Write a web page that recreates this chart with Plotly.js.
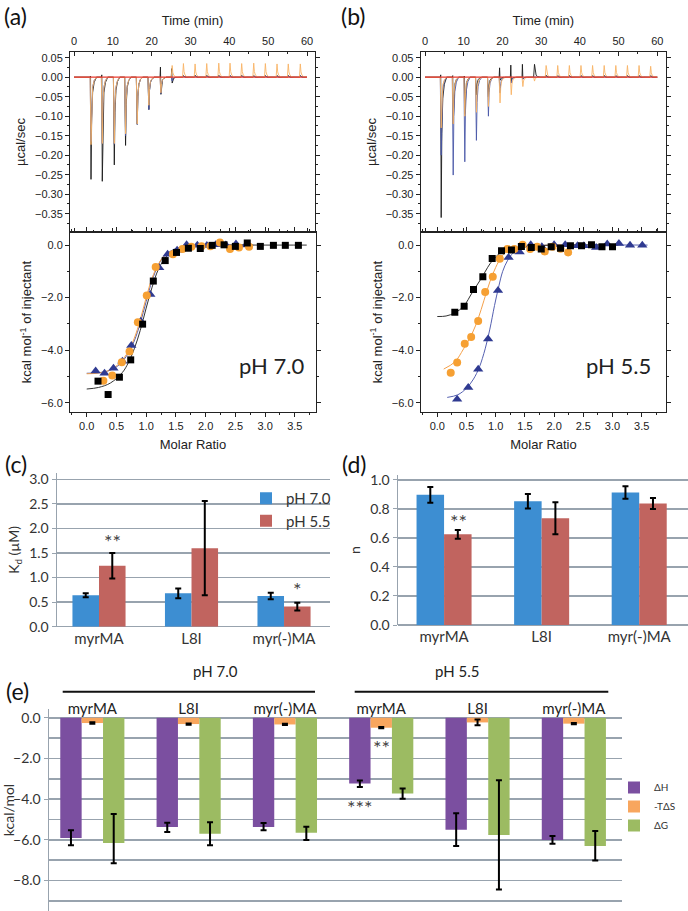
<!DOCTYPE html>
<html><head><meta charset="utf-8">
<script src="https://cdn.plot.ly/plotly-3.0.1.min.js"></script>
<style>html,body{margin:0;padding:0;background:#fff}</style>
</head><body><div id="chart" style="width:688px;height:911px"></div>
<script>
// ================= DATA =================
// (a) thermogram, pH 7.0 : injection times (min) and peak heights (µcal/sec)
const injTimeA    = [4.3,7.2,10.3,13.2,16.2,19.2,22.3,25.2,28.1,31.1,34.1,37.2,40.1,43.1,46.2,49.2,52.2,55.1,58.2];
const peakA_black = [-0.262,-0.267,-0.225,-0.175,-0.121,-0.083,-0.044,-0.015,0.004,0.005,0.005,0.005,0.004,0.005,0.004,0.004,0.004,0.004,0.004];
const kickA_black = [0.003,0.006,0,0,0,0,0.026,0.022,0,0,0,0,0,0,0,0,0,0,0];
const peakA_orange= [-0.173,-0.170,-0.170,-0.145,-0.120,-0.072,-0.040,0.030,0.035,0.034,0.035,0.036,0.036,0.035,0.036,0.035,0.034,0.034,0.034];
const peakA_blue  = [-0.165,-0.170,-0.172,-0.150,-0.121,-0.083,-0.042,-0.010,0.003,0.003,0.003,0.003,0.003,0.003,0.003,0.003,0.003,0.003,0.003];
// (b) thermogram, pH 5.5
const injTimeB    = [4.1,7.2,10.2,13.2,16.3,19.3,22.2,25.2,28.2,31.2,34.2,37.2,40.2,43.2,46.2,49.2,52.2,55.2,58.2];
const peakB_black = [-0.360,-0.120,-0.095,-0.045,-0.050,-0.008,-0.010,-0.005,0.033,0.005,0.004,0.004,0.004,0.004,0.004,0.004,0.004,0.004,0.004];
const kickB_black = [0.006,0.004,0.003,0,0,0.024,0.031,0.033,0,0,0,0,0,0,0,0,0,0,0];
const peakB_orange= [-0.130,-0.120,-0.100,-0.090,-0.075,-0.066,-0.045,-0.024,-0.010,0.030,0.030,0.030,0.030,0.030,0.030,0.030,0.030,0.030,0.028];
const peakB_blue  = [-0.200,-0.251,-0.217,-0.162,-0.100,-0.040,-0.015,-0.005,0.002,0.002,0.002,0.002,0.002,0.002,0.002,0.002,0.002,0.002,0.002];
const baselineT = [0, 60];
const baselineV = [0, 0];

// (a) integrated heats, pH 7.0 (kcal/mol of injectant vs molar ratio)
const sqA_x  = [0.19,0.36,0.55,0.74,0.94,1.12,1.32,1.51,1.71,1.91,2.11,2.31,2.50,2.70,2.92,3.14,3.34,3.56];
const sqA_y  = [-5.18,-5.69,-5.03,-4.37,-3.01,-1.37,-0.59,-0.28,-0.12,-0.13,-0.01,0.01,-0.05,0.08,-0.05,-0.01,-0.01,-0.01];
const ciA_x  = [0.28,0.43,0.59,0.72,0.86,1.01,1.16,1.45,1.61,1.76,1.93,2.08,2.24,2.41,2.56,2.73];
const ciA_y  = [-5.17,-4.97,-4.46,-4.05,-2.94,-1.92,-0.83,-0.35,-0.15,-0.06,-0.04,-0.04,0.10,-0.15,-0.09,-0.06];
const triA_x = [0.15,0.30,0.45,0.60,0.75,0.91,1.07,1.22,1.36,1.52,1.68,1.86,2.02,2.17,2.34,2.51,2.68];
const triA_y = [-4.79,-4.88,-4.69,-4.42,-3.82,-2.90,-1.88,-0.86,-0.35,-0.20,0.01,-0.01,-0.02,0.01,0.00,0.04,0.00];
const fitA_black_x  = [0,0.2,0.4,0.6,0.7,0.8,0.9,1.0,1.1,1.2,1.3,1.4,1.5,1.7,2.0,2.5,3.0,3.7];
const fitA_black_y  = [-5.48,-5.42,-5.25,-4.85,-4.48,-3.95,-3.25,-2.40,-1.60,-0.95,-0.55,-0.30,-0.17,-0.06,-0.02,0,0,0];
const fitA_orange_x = [0,0.2,0.4,0.55,0.7,0.8,0.9,1.0,1.1,1.2,1.3,1.45,1.6,1.8,2.2,2.8];
const fitA_orange_y = [-4.90,-4.87,-4.75,-4.50,-4.05,-3.55,-2.85,-2.00,-1.25,-0.75,-0.42,-0.20,-0.09,-0.03,0,0];
const fitA_blue_x   = [0,0.2,0.4,0.55,0.7,0.8,0.9,1.0,1.1,1.2,1.3,1.45,1.6,1.8,2.2,2.8];
const fitA_blue_y   = [-4.88,-4.86,-4.76,-4.55,-4.12,-3.65,-2.98,-2.15,-1.35,-0.78,-0.42,-0.18,-0.07,-0.02,0,0];

// (b) integrated heats, pH 5.5
const sqB_x  = [0.30,0.46,0.62,0.78,0.94,1.10,1.27,1.44,1.61,1.78,1.95,2.11,2.28,2.47,2.64,2.82,3.00];
const sqB_y  = [-2.56,-2.33,-1.69,-1.21,-0.51,-0.22,-0.19,-0.05,-0.09,-0.15,-0.06,-0.12,-0.03,-0.03,0.01,-0.06,-0.06];
const ciB_x  = [0.23,0.34,0.47,0.58,0.70,0.82,0.95,1.07,1.20,1.32,1.46,1.59,1.71,1.84,1.97,2.11,2.24];
const ciB_y  = [-4.86,-4.47,-3.76,-3.50,-2.89,-1.79,-1.21,-0.52,-0.15,-0.15,0.01,-0.15,-0.06,-0.24,-0.06,-0.14,-0.28];
const triB_x = [0.34,0.53,0.70,0.87,1.04,1.22,1.41,1.60,1.79,2.00,2.19,2.40,2.51,2.72,2.91,3.11,3.30,3.51];
const triB_y = [-5.87,-5.42,-4.73,-3.58,-1.73,-0.47,-0.26,0.01,-0.06,0.01,0.01,-0.03,-0.03,-0.09,0.04,0.06,-0.01,-0.01];
const fitB_black_x  = [0,0.15,0.3,0.45,0.6,0.75,0.9,1.0,1.1,1.3,1.6,2.0,3.1];
const fitB_black_y  = [-2.72,-2.70,-2.58,-2.33,-1.80,-1.28,-0.72,-0.45,-0.27,-0.12,-0.04,0,0];
const fitB_orange_x = [0.11,0.3,0.45,0.6,0.7,0.8,0.9,1.0,1.1,1.2,1.4,1.7,2.2,2.4];
const fitB_orange_y = [-4.72,-4.45,-3.95,-3.35,-2.80,-2.10,-1.40,-0.85,-0.45,-0.22,-0.07,-0.02,0,0];
const fitB_blue_x   = [0.17,0.35,0.5,0.62,0.72,0.82,0.9,0.98,1.05,1.12,1.2,1.3,1.45,1.7,2.2,3.6];
const fitB_blue_y   = [-5.80,-5.70,-5.45,-5.10,-4.65,-3.95,-3.20,-2.30,-1.60,-1.00,-0.60,-0.30,-0.12,-0.03,0,0];

// (c) Kd (µM) and (d) n
const constructs = ['myrMA','L8I','myr(-)MA'];
const kd_pH70 = [0.64,0.68,0.625];
const kd_pH70_err = [0.04,0.10,0.065];
const kd_pH55 = [1.24,1.60,0.41];
const kd_pH55_err = [0.26,0.96,0.08];
const n_pH70 = [0.897,0.853,0.913];
const n_pH70_err = [0.055,0.05,0.043];
const n_pH55 = [0.625,0.736,0.837];
const n_pH55_err = [0.03,0.11,0.038];

// (e) thermodynamic parameters (kcal/mol)
const groupPH    = ['pH 7.0','pH 7.0','pH 7.0','pH 5.5','pH 5.5','pH 5.5'];
const groupNames = ['myrMA','L8I','myr(-)MA','myrMA','L8I','myr(-)MA'];
const dH       = [-5.91,-5.37,-5.37,-3.23,-5.50,-6.01];
const dH_errUp = [0.38,0.21,0.19,0.14,0.80,0.20];
const dH_errDn = [0.36,0.25,0.16,0.17,0.80,0.19];
const mTdS       = [-0.26,-0.31,-0.33,-0.49,-0.23,-0.29];
const mTdS_err   = [0.04,0.03,0.03,0.03,0.14,0.03];
const dG       = [-6.16,-5.70,-5.65,-3.72,-5.76,-6.30];
const dG_errUp = [1.43,0.56,0.29,0.24,2.69,0.73];
const dG_errDn = [0.99,0.57,0.36,0.26,2.68,0.72];

// ================= STYLE / HELPERS =================
const FT = '"Liberation Sans", Arial, sans-serif';
const FX = 'Lato, "Open Sans", sans-serif';
const W = 688, H = 911;
const fx = p => p / W;
const fy = p => 1 - p / H;
const C_BLACK = '#1a1a1a', C_ORANGE = '#F8B365', C_BLUE = '#4A58A8', C_RED = '#E8382C';
const spikeOffsets = [0, 0.08, 0.25, 0.5, 0.9, 1.5];
const spikeFrac    = [0, 1, 0.4, 0.15, 0.05, 0];

function thermo(times, peaks, kicks) {
  const x = [0], y = [0];
  times.forEach((t, i) => {
    x.push(t - 0.15); y.push(0);
    if (kicks && kicks[i]) { x.push(t - 0.04); y.push(kicks[i]); }
    for (let j = 1; j < spikeOffsets.length; j++) { x.push(t + spikeOffsets[j]); y.push(peaks[i] * spikeFrac[j]); }
  });
  x.push(60); y.push(0);
  return { x, y };
}
function line(d, xa, ya, color, w) {
  return { type:'scatter', mode:'lines', x:d.x, y:d.y, xaxis:xa, yaxis:ya, showlegend:false,
           hoverinfo:'skip', line:{color, width:w||1} };
}
function fit(x, y, xa, ya, color) {
  return { type:'scatter', mode:'lines', x, y, xaxis:xa, yaxis:ya, showlegend:false,
           line:{color, width:1, shape:'spline', smoothing:1} };
}
function pts(x, y, xa, ya, color, sym, size) {
  return { type:'scatter', mode:'markers', x, y, xaxis:xa, yaxis:ya, showlegend:false,
           marker:{color, symbol:sym, size, line:{width:0}} };
}

const traces = [];
// ---- thermograms
[['x','y',injTimeA,peakA_black,kickA_black,peakA_blue,peakA_orange],
 ['x3','y3',injTimeB,peakB_black,kickB_black,peakB_blue,peakB_orange]].forEach(s => {
  traces.push(line(thermo(s[2], s[3], s[4]), s[0], s[1], C_BLACK, 0.9));
  traces.push(line(thermo(s[2], s[5]), s[0], s[1], C_BLUE, 0.9));
  traces.push(line(thermo(s[2], s[6]), s[0], s[1], C_ORANGE, 0.9));
  traces.push(line({x:baselineT, y:baselineV}, s[0], s[1], C_RED, 1.2));
});
// ---- isotherms
traces.push(fit(fitA_blue_x, fitA_blue_y, 'x2','y2', '#5560B0'));
traces.push(fit(fitA_orange_x, fitA_orange_y, 'x2','y2', '#F4A04A'));
traces.push(fit(fitA_black_x, fitA_black_y, 'x2','y2', '#333'));
traces.push(pts(triA_x, triA_y, 'x2','y2', '#2F3A91', 'triangle-up', 9));
traces.push(pts(ciA_x, ciA_y, 'x2','y2', '#F6A033', 'circle', 8));
traces.push(pts(sqA_x, sqA_y, 'x2','y2', '#000', 'square', 7));
traces.push(fit(fitB_blue_x, fitB_blue_y, 'x4','y4', '#5560B0'));
traces.push(fit(fitB_orange_x, fitB_orange_y, 'x4','y4', '#F4A04A'));
traces.push(fit(fitB_black_x, fitB_black_y, 'x4','y4', '#333'));
traces.push(pts(triB_x, triB_y, 'x4','y4', '#2F3A91', 'triangle-up', 9));
traces.push(pts(ciB_x, ciB_y, 'x4','y4', '#F6A033', 'circle', 8));
traces.push(pts(sqB_x, sqB_y, 'x4','y4', '#000', 'square', 7));

// ---- (c) and (d) bars
const BLUE = '#3D8ED2', RED = '#C1645F';
function errBar(arr, minus) {
  const e = { type:'data', array:arr, color:'#000', thickness:2, width:3, visible:true };
  if (minus) { e.symmetric = false; e.arrayminus = minus; }
  return e;
}
traces.push({type:'bar', name:'pH 7.0', x:constructs, y:kd_pH70, xaxis:'x5', yaxis:'y5',
  marker:{color:BLUE}, width:0.287, offset:-0.287, error_y:errBar(kd_pH70_err), legend:'legend'});
traces.push({type:'bar', name:'pH 5.5', x:constructs, y:kd_pH55, xaxis:'x5', yaxis:'y5',
  marker:{color:RED}, width:0.287, offset:0, error_y:errBar(kd_pH55_err), legend:'legend'});
traces.push({type:'bar', name:'pH 7.0', x:constructs, y:n_pH70, xaxis:'x6', yaxis:'y6', showlegend:false,
  marker:{color:BLUE}, width:0.282, offset:-0.282, error_y:errBar(n_pH70_err)});
traces.push({type:'bar', name:'pH 5.5', x:constructs, y:n_pH55, xaxis:'x6', yaxis:'y6', showlegend:false,
  marker:{color:RED}, width:0.282, offset:0, error_y:errBar(n_pH55_err)});

// ---- (e) bars
const eKeys = groupPH.map((p, i) => p + ' ' + groupNames[i]);
traces.push({type:'bar', name:'ΔH', x:eKeys, y:dH, xaxis:'x7', yaxis:'y7', legend:'legend2',
  marker:{color:'#7B4FA0'}, width:0.222, offset:-0.333, error_y:errBar(dH_errUp, dH_errDn)});
traces.push({type:'bar', name:'-TΔS', x:eKeys, y:mTdS, xaxis:'x7', yaxis:'y7', legend:'legend2',
  marker:{color:'#F8A65E'}, width:0.222, offset:-0.111, error_y:errBar(mTdS_err)});
traces.push({type:'bar', name:'ΔG', x:eKeys, y:dG, xaxis:'x7', yaxis:'y7', legend:'legend2',
  marker:{color:'#9CBB62'}, width:0.222, offset:0.111, error_y:errBar(dG_errUp, dG_errDn)});

// ================= LAYOUT =================
const tkT = {family:FT, size:11, color:'#222'};
const ttT = {family:FT, size:13, color:'#222'};
const GRID = '#98A3AE';
const tkX = {family:FX, size:14, color:'#333'};

function thermoX(dom, rng) {
  return {domain:dom, range:rng, side:'top', dtick:10, tick0:0, ticks:'inside', ticklen:4, tickcolor:'#222',
    minor:{dtick:5, ticks:'inside', ticklen:2, tickcolor:'#222'}, showline:true, mirror:'ticks', linecolor:'#222',
    linewidth:1, showgrid:false, zeroline:false, tickfont:tkT, ticklabelstandoff:2,
    title:{text:'Time (min)', font:ttT, standoff:6}};
}
function thermoY(anchor) {
  return {domain:[fy(232), fy(52)], range:[-0.397, 0.0646], anchor, dtick:0.05, tick0:0, tickformat:'.2f',
    ticks:'outside', ticklen:4, tickcolor:'#222', minor:{dtick:0.025, ticks:'outside', ticklen:2, tickcolor:'#222'},
    showline:true, mirror:'ticks', linecolor:'#222', linewidth:1, showgrid:false, zeroline:false, tickfont:tkT,
    title:{text:'µcal/sec', font:ttT, standoff:6}};
}
function isoX(dom, rng, anchor) {
  return {domain:dom, range:rng, anchor, dtick:0.5, tick0:0, tickformat:'.1f', ticks:'outside', ticklen:4,
    tickcolor:'#222', minor:{dtick:0.25, ticks:'outside', ticklen:2, tickcolor:'#222'}, showline:true, mirror:'ticks',
    linecolor:'#222', linewidth:1, showgrid:false, zeroline:false, tickfont:tkT,
    title:{text:'Molar Ratio', font:ttT, standoff:8}};
}
function isoY(anchor) {
  return {domain:[fy(412), fy(232)], range:[-6.355, 0.498], anchor, dtick:2, tick0:0, tickformat:'.1f',
    ticks:'outside', ticklen:4, tickcolor:'#222', minor:{dtick:1, ticks:'outside', ticklen:2, tickcolor:'#222'},
    showline:true, mirror:'ticks', linecolor:'#222', linewidth:1, showgrid:false, zeroline:false, tickfont:tkT,
    title:{text:'kcal mol<sup>-1</sup> of injectant', font:ttT, standoff:6}};
}
function barY(dom, rng, dtick, anchor, title) {
  return {domain:dom, range:rng, anchor, dtick, tick0:0, tickformat:'.1f', showgrid:true, gridcolor:GRID,
    gridwidth:1.5, zeroline:true, zerolinecolor:GRID, zerolinewidth:1.5, showline:true, linecolor:GRID, linewidth:1.5,
    ticks:'outside', ticklen:4, tickcolor:GRID, tickfont:tkX, title:{text:title, font:{family:FX, size:14, color:'#333'}, standoff:6}};
}
const AST = {family:FX, size:20, color:'#444'};

const layout = {
  width:W, height:H, margin:{l:0, r:0, t:0, b:0}, paper_bgcolor:'#fff', plot_bgcolor:'rgba(0,0,0,0)',
  font:{family:FX, color:'#333'}, barmode:'group', hovermode:false,
  xaxis: Object.assign(thermoX([fx(70), fx(315)], [-1.03, 62.06]), {anchor:'y'}),
  yaxis: thermoY('x'),
  xaxis2: isoX([fx(70), fx(316)], [-0.281, 3.856], 'y2'),
  yaxis2: isoY('x2'),
  xaxis3: Object.assign(thermoX([fx(420.7), fx(666)], [-1.11, 62.24]), {anchor:'y3'}),
  yaxis3: thermoY('x3'),
  xaxis4: isoX([fx(420.7), fx(666.3)], [-0.284, 3.921], 'y4'),
  yaxis4: isoY('x4'),
  xaxis5: {domain:[fx(57), fx(330)], range:[-0.454, 2.497], anchor:'y5', type:'category', showline:false,
    ticks:'', tickfont:{family:FX, size:15, color:'#333'}, ticklabelstandoff:1, showgrid:false},
  yaxis5: barY([fy(626.7), fy(473)], [0, 3.13], 0.5, 'x5', 'K<sub>d</sub> (µM)'),
  xaxis6: {domain:[fx(398), fx(688)], range:[-0.472, 2.5], anchor:'y6', type:'category', showline:false,
    ticks:'', tickfont:{family:FX, size:15, color:'#333'}, ticklabelstandoff:1, showgrid:false},
  yaxis6: barY([fy(625), fy(475)], [0, 1.034], 0.2, 'x6', 'n'),
  xaxis7: {domain:[fx(49), fx(622)], range:[-0.45, 5.5], anchor:'free', position:fy(718), side:'top',
    type:'category', tickvals:eKeys, ticktext:groupNames, ticks:'', showline:false, showgrid:false,
    tickfont:{family:FX, size:15, color:'#222'}, ticklabelstandoff:1},
  yaxis7: Object.assign(barY([0, fy(709)], [-9.5, 0.43], 2, 'x7', 'kcal/mol'),
    {minor:{dtick:1, showgrid:true, gridcolor:GRID, gridwidth:1.5, ticks:''}, zeroline:true}),
  legend: {x:fx(246), y:fy(482), xanchor:'left', yanchor:'top', bgcolor:'rgba(0,0,0,0)',
    font:{family:FX, size:15, color:'#333'}, tracegroupgap:0, itemwidth:30},
  legend2: {x:fx(614), y:fy(773), xanchor:'left', yanchor:'top', bgcolor:'rgba(0,0,0,0)',
    font:{family:FX, size:10, color:'#333'}, itemwidth:30},
  annotations: [
    {text:'(a)', x:fx(2), y:fy(16), xref:'paper', yref:'paper', xanchor:'left', yanchor:'middle', showarrow:false, font:{family:FX, size:23, color:'#111'}},
    {text:'(b)', x:fx(339), y:fy(16), xref:'paper', yref:'paper', xanchor:'left', yanchor:'middle', showarrow:false, font:{family:FX, size:23, color:'#111'}},
    {text:'(c)', x:fx(3), y:fy(464), xref:'paper', yref:'paper', xanchor:'left', yanchor:'middle', showarrow:false, font:{family:FX, size:23, color:'#111'}},
    {text:'(d)', x:fx(340), y:fy(464), xref:'paper', yref:'paper', xanchor:'left', yanchor:'middle', showarrow:false, font:{family:FX, size:23, color:'#111'}},
    {text:'(e)', x:fx(4), y:fy(691), xref:'paper', yref:'paper', xanchor:'left', yanchor:'middle', showarrow:false, font:{family:FX, size:23, color:'#111'}},
    {text:'pH 7.0', x:3.1, y:-4.6, xref:'x2', yref:'y2', xanchor:'center', yanchor:'middle', showarrow:false, font:{family:FX, size:22, color:'#222'}},
    {text:'pH 5.5', x:3.1, y:-4.6, xref:'x4', yref:'y4', xanchor:'center', yanchor:'middle', showarrow:false, font:{family:FX, size:22, color:'#222'}},
    {text:'**', x:'myrMA', y:1.74, xref:'x5', yref:'y5', xshift:13, showarrow:false, font:AST},
    {text:'*', x:'myr(-)MA', y:0.76, xref:'x5', yref:'y5', xshift:13, showarrow:false, font:AST},
    {text:'**', x:'myrMA', y:0.72, xref:'x6', yref:'y6', xshift:14, showarrow:false, font:AST},
    {text:'**', x:eKeys[3], y:-1.45, xref:'x7', yref:'y7', showarrow:false, font:AST},
    {text:'***', x:eKeys[3], y:-4.4, xref:'x7', yref:'y7', xshift:-21, showarrow:false, font:AST},
    {text:'pH 7.0', x:fx(190.7), y:fy(681.7), xref:'paper', yref:'paper', showarrow:false, font:{family:FX, size:15, color:'#222'}},
    {text:'pH 5.5', x:fx(480.7), y:fy(681.7), xref:'paper', yref:'paper', showarrow:false, font:{family:FX, size:15, color:'#222'}}
  ],
  shapes: [
    {type:'line', xref:'paper', yref:'paper', x0:fx(62.7), x1:fx(315), y0:fy(691.7), y1:fy(691.7), line:{color:'#111', width:2}},
    {type:'line', xref:'paper', yref:'paper', x0:fx(354.7), x1:fx(608.3), y0:fy(691.7), y1:fy(691.7), line:{color:'#111', width:2}}
  ]
};

Plotly.newPlot('chart', traces, layout, {staticPlot:true, displayModeBar:false});
</script></body></html>
